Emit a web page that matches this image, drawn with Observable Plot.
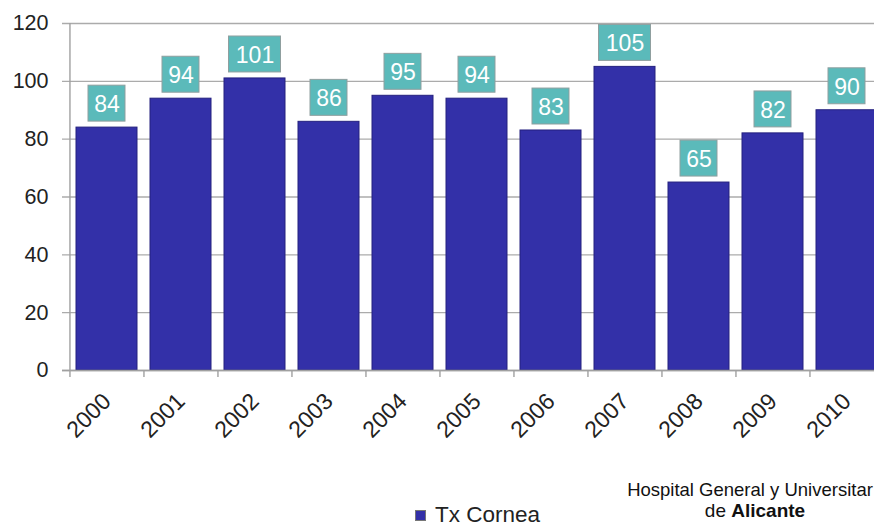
<!DOCTYPE html>
<html><head><meta charset="utf-8">
<script src="https://cdn.jsdelivr.net/npm/d3@7"></script>
<script src="https://cdn.jsdelivr.net/npm/@observablehq/plot@0.6"></script>
<style>
html,body{margin:0;padding:0;background:#fff;overflow:hidden;width:874px;height:528px;}
#wrap{position:relative;width:874px;height:528px;overflow:hidden;font-family:"Liberation Sans",Arial,sans-serif;}
#chart svg{max-width:none !important;}
#legend{position:absolute;left:415px;top:502px;font-size:22.5px;line-height:26px;color:#222;white-space:nowrap;}
#legend span.sw{display:inline-block;width:11px;height:11px;background:#3330a8;border:1px solid #777;margin-right:9px;vertical-align:1px;box-sizing:border-box;}
.cap{position:absolute;width:300px;text-align:center;font-size:18.5px;line-height:21px;color:#111;white-space:nowrap;}
#cap1{left:600px;top:479px;}
#cap2{left:605px;top:500px;font-size:19px;}
</style></head>
<body><div id="wrap"><div id="chart"></div>
<div id="legend"><span class="sw"></span>Tx Cornea</div>
<div class="cap" id="cap1">Hospital General y Universitar</div>
<div class="cap" id="cap2">de <b>Alicante</b></div>
</div>
<script>
const years = ["2000","2001","2002","2003","2004","2005","2006","2007","2008","2009","2010"];
const values = [84, 94, 101, 86, 95, 94, 83, 105, 65, 82, 90];
const yTicks = [0, 20, 40, 60, 80, 100, 120];
const seriesName = "Tx Cornea";

const data = years.map((y, i) => ({year: y, value: values[i]}));
const two = data.filter(d => String(d.value).length < 3);
const three = data.filter(d => String(d.value).length >= 3);
const u = 120 / 347.5; // data units per pixel
const boxGap = 6 * u, boxH = 36 * u, tickLen = 7 * u;
const halfBand = 815 / years.length / 2;

const chart = Plot.plot({
  width: 884, height: 460,
  marginLeft: 69, marginRight: 0, marginTop: 23, marginBottom: 90,
  style: {fontFamily: "'Liberation Sans', Arial, sans-serif", background: "#fff", overflow: "visible", maxWidth: "none"},
  x: {domain: years, paddingInner: 0.17, paddingOuter: 0.085, label: null, axis: null},
  y: {domain: [0, 120], ticks: yTicks, label: null, axis: null},
  marks: [
    Plot.ruleY(yTicks, {stroke: "#ababab", strokeWidth: 1.3, insetLeft: -7}),
    Plot.axisY({ticks: yTicks, tickSize: 0, tickPadding: 21, fontSize: 21.5, fill: "#222", label: null}),
    Plot.barY(data, {x: "year", y: "value", fill: "#3330a8", stroke: "#24207f", strokeWidth: 1}),
    Plot.ruleX(years, {x: d => d, dx: -halfBand, y1: -tickLen, y2: 0, stroke: "#a0a0a0", strokeWidth: 1.4}),
    Plot.ruleX([years[0]], {x: d => d, dx: -halfBand, y1: 0, y2: 120, stroke: "#a0a0a0", strokeWidth: 1.4}),
    Plot.ruleY([0], {stroke: "#a0a0a0", strokeWidth: 1.4, insetLeft: -7}),
    Plot.axisX({tickRotate: -45, tickSize: 0, tickPadding: 27, dx: 0, fontSize: 23, fill: "#222", label: null}),
    Plot.rectY(two, {x: "year", y1: d => d.value + boxGap, y2: d => d.value + boxGap + boxH, fill: "#5bbaba", stroke: "#8f9f9f", strokeWidth: 1, insetLeft: 12, insetRight: 12}),
    Plot.rectY(three, {x: "year", y1: d => d.value + boxGap, y2: d => d.value + boxGap + boxH, fill: "#5bbaba", stroke: "#8f9f9f", strokeWidth: 1, insetLeft: 4.5, insetRight: 4.5}),
    Plot.text(data, {x: "year", y: d => d.value + boxGap + boxH / 2, text: d => String(d.value), fill: "#fff", fontSize: 23, dy: 1})
  ]
});
document.getElementById("chart").appendChild(chart);
</script>
</body></html>
